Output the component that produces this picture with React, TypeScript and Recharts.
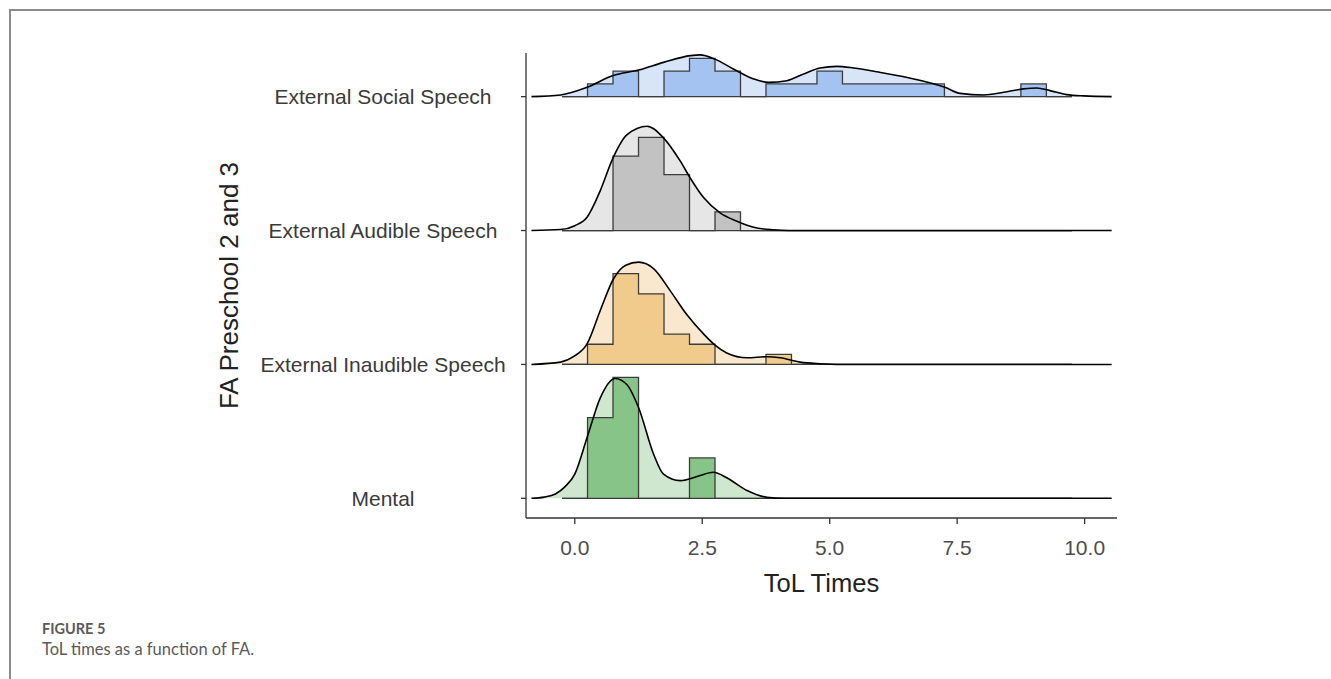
import { ComposedChart, Area, Line, XAxis, YAxis } from 'recharts';

// rows from bottom (y = 0) to top (y = 3)
const rowNames = ['Mental', 'External Inaudible Speech', 'External Audible Speech', 'External Social Speech'];
const xTicks = [0, 2.5, 5, 7.5, 10];

// histogram: bins of width 0.5, left edges
const binEdges = [-0.25, 0.25, 0.75, 1.25, 1.75, 2.25, 2.75, 3.25, 3.75, 4.25, 4.75, 5.25, 5.75, 6.25, 6.75, 7.25, 7.75, 8.25, 8.75, 9.25, 9.75];
const binWidth = 0.5;

const socialCounts = [0, 1, 2, 0, 2, 3, 2, 0, 1, 1, 2, 1, 1, 1, 1, 0, 0, 0, 1, 0];
const audibleCounts = [0, 0, 4, 5, 3, 0, 1, 0, 0, 0, 0, 0, 0, 0, 0, 0, 0, 0, 0, 0];
const inaudibleCounts = [0, 2, 9, 7, 3, 2, 0, 0, 1, 0, 0, 0, 0, 0, 0, 0, 0, 0, 0, 0];
const mentalCounts = [0, 2, 3, 0, 0, 1, 0, 0, 0, 0, 0, 0, 0, 0, 0, 0, 0, 0, 0, 0];

// density curves
const socialX = [-0.85, -0.28, 0.24, 0.75, 1.25, 1.74, 2.27, 2.46, 2.75, 3.11, 3.51, 3.8, 4.16, 4.49, 4.81, 5.14, 5.47, 6.0, 6.5, 7.0, 7.26, 7.56, 8.02, 8.41, 8.8, 9.06, 9.32, 9.65, 9.98, 10.53];
const socialY = [0, 0.014, 0.077, 0.174, 0.22, 0.283, 0.339, 0.345, 0.31, 0.229, 0.146, 0.118, 0.132, 0.188, 0.237, 0.25, 0.237, 0.2, 0.16, 0.11, 0.077, 0.027, 0.014, 0.036, 0.064, 0.072, 0.05, 0.017, 0.006, 0];

const audibleX = [-0.85, -0.28, 0.0, 0.24, 0.5, 0.75, 1.02, 1.42, 1.74, 2.07, 2.27, 2.53, 2.85, 3.18, 3.51, 3.9, 4.2, 10.53];
const audibleY = [0, 0.008, 0.04, 0.11, 0.33, 0.6, 0.79, 0.862, 0.766, 0.573, 0.43, 0.27, 0.146, 0.077, 0.027, 0.006, 0, 0];

const inaudibleX = [-0.85, -0.28, -0.02, 0.24, 0.5, 0.76, 1.0, 1.25, 1.55, 1.87, 2.2, 2.53, 2.75, 2.98, 3.38, 3.77, 4.03, 4.42, 4.81, 5.2, 10.53];
const inaudibleY = [0, 0.019, 0.066, 0.17, 0.446, 0.708, 0.82, 0.845, 0.79, 0.61, 0.41, 0.25, 0.16, 0.095, 0.055, 0.064, 0.055, 0.019, 0.006, 0, 0];

const mentalX = [-0.85, -0.6, -0.38, -0.19, 0.0, 0.24, 0.5, 0.79, 1.02, 1.25, 1.55, 1.74, 2.07, 2.4, 2.72, 2.98, 3.38, 3.77, 4.1, 10.53];
const mentalY = [0, 0.01, 0.036, 0.097, 0.2, 0.5, 0.83, 0.99, 0.94, 0.75, 0.36, 0.2, 0.146, 0.18, 0.215, 0.17, 0.064, 0.008, 0, 0];

// density units -> row units
const HEIGHT_SCALE = 0.904;

const rows = [
  { base: 3, counts: socialCounts, dx: socialX, dy: socialY, light: '#d8e4f7', dark: '#a5c3f1' },
  { base: 2, counts: audibleCounts, dx: audibleX, dy: audibleY, light: '#e6e6e6', dark: '#c2c2c2' },
  { base: 1, counts: inaudibleCounts, dx: inaudibleX, dy: inaudibleY, light: '#f9e8cd', dark: '#f0cb8c' },
  { base: 0, counts: mentalCounts, dx: mentalX, dy: mentalY, light: '#cfe6cf', dark: '#87c487' },
];

const FONT = '"Liberation Sans", Arial, sans-serif';
const LABEL_CENTER = 383;

function histData(counts: number[]) {
  const n = counts.reduce((a, b) => a + b, 0);
  const pts = counts.map((c, i) => ({ x: binEdges[i], h: c / (n * binWidth) }));
  pts.push({ x: binEdges[binEdges.length - 1], h: 0 });
  return pts;
}

function densityData(xs: number[], ys: number[]) {
  return xs.map((x, i) => ({ x, h: ys[i] }));
}

function RowTick(props: any) {
  const { y, payload } = props;
  return (
    <text x={LABEL_CENTER} y={y} dy="0.35em" textAnchor="middle" fontSize={21} fill="#3a3a3a" fontFamily={FONT}>
      {rowNames[payload.value]}
    </text>
  );
}

export default function App() {
  return (
    <div style={{ position: 'absolute', left: 0, top: 0, width: 1331, height: 679, background: '#fff', overflow: 'hidden' }}>
      <div style={{ position: 'absolute', left: 9, top: 9, right: 0, bottom: 0, borderTop: '2px solid #8c8c8c', borderLeft: '2px solid #8c8c8c' }} />
      <div style={{ position: 'absolute', left: 0, top: 0 }}>
        <ComposedChart width={1140} height={600} margin={{ top: 53, right: 23, bottom: 0, left: 0 }}>
          <XAxis
            dataKey="x"
            type="number"
            domain={[-0.957, 10.635]}
            allowDataOverflow
            ticks={xTicks}
            tickFormatter={(v: number) => v.toFixed(1)}
            height={82}
            tickSize={6}
            tickMargin={16}
            tick={{ fontSize: 21, fill: '#4d4d4d', fontFamily: FONT }}
            axisLine={{ stroke: '#333', strokeWidth: 1.3 }}
            tickLine={{ stroke: '#333', strokeWidth: 1.3 }}
            label={{ value: 'ToL Times', position: 'insideBottom', offset: 8, fontSize: 25.6, fill: '#222', fontFamily: FONT }}
          />
          <YAxis
            type="number"
            domain={[-0.147, 3.326]}
            allowDataOverflow
            ticks={[0, 1, 2, 3]}
            width={526}
            tickSize={5}
            tick={<RowTick />}
            axisLine={{ stroke: '#333', strokeWidth: 1.3 }}
            tickLine={{ stroke: '#333', strokeWidth: 1.3 }}
            label={{ value: 'FA Preschool 2 and 3', angle: -90, position: 'insideLeft', offset: 229, fontSize: 26, fill: '#222', fontFamily: FONT, style: { textAnchor: 'middle' } }}
          />
          {rows.map((r) => [
            <Area
              key={`d-${r.base}`}
              data={densityData(r.dx, r.dy)}
              dataKey={(d: any) => [r.base, r.base + d.h * HEIGHT_SCALE]}
              type="monotone"
              fill={r.light}
              fillOpacity={1}
              stroke="none"
              dot={false}
              activeDot={false}
              isAnimationActive={false}
            />,
            <Area
              key={`h-${r.base}`}
              data={histData(r.counts)}
              dataKey={(d: any) => [r.base, r.base + d.h * HEIGHT_SCALE]}
              type="stepAfter"
              fill={r.dark}
              fillOpacity={1}
              stroke="#3c3c3c"
              strokeWidth={1.3}
              dot={false}
              activeDot={false}
              isAnimationActive={false}
            />,
            <Line
              key={`l-${r.base}`}
              data={densityData(r.dx, r.dy)}
              dataKey={(d: any) => r.base + d.h * HEIGHT_SCALE}
              type="monotone"
              stroke="#000"
              strokeWidth={1.6}
              dot={false}
              activeDot={false}
              isAnimationActive={false}
            />,
          ])}
        </ComposedChart>
      </div>
      <div style={{ position: 'absolute', left: 42, top: 621, fontFamily: 'Lato, "Open Sans", sans-serif', fontWeight: 700, fontSize: 14.5, color: '#5a5a5a', lineHeight: '16px' }}>
        FIGURE 5
      </div>
      <div style={{ position: 'absolute', left: 42, top: 640, fontFamily: 'Lato, "Open Sans", sans-serif', fontSize: 16.5, color: '#5a5a5a', lineHeight: '18px' }}>
        ToL times as a function of FA.
      </div>
    </div>
  );
}
